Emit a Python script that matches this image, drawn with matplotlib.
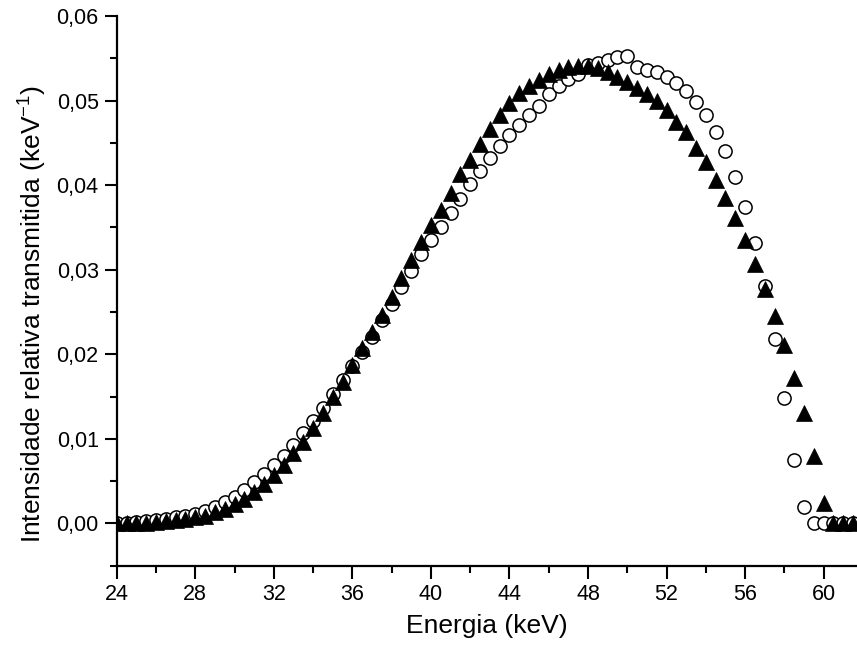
import numpy as np
import matplotlib
matplotlib.use("Agg")
import matplotlib.pyplot as plt
from matplotlib.ticker import MultipleLocator, FuncFormatter

# Energy grid (keV), one point every 0.5 keV
energia = [24.0, 24.5, 25.0, 25.5, 26.0, 26.5, 27.0, 27.5, 28.0, 28.5,
           29.0, 29.5, 30.0, 30.5, 31.0, 31.5, 32.0, 32.5, 33.0, 33.5,
           34.0, 34.5, 35.0, 35.5, 36.0, 36.5, 37.0, 37.5, 38.0, 38.5,
           39.0, 39.5, 40.0, 40.5, 41.0, 41.5, 42.0, 42.5, 43.0, 43.5,
           44.0, 44.5, 45.0, 45.5, 46.0, 46.5, 47.0, 47.5, 48.0, 48.5,
           49.0, 49.5, 50.0, 50.5, 51.0, 51.5, 52.0, 52.5, 53.0, 53.5,
           54.0, 54.5, 55.0, 55.5, 56.0, 56.5, 57.0, 57.5, 58.0, 58.5,
           59.0, 59.5, 60.0, 60.5, 61.0, 61.5]

# Open circles
circulos = [0.0001, 0.0001, 0.0002, 0.0003, 0.0004, 0.0005, 0.0007, 0.0009, 0.0011, 0.0015,
            0.0019, 0.0025, 0.0031, 0.0039, 0.0049, 0.0058, 0.0069, 0.0080, 0.0093, 0.0107,
            0.0121, 0.0137, 0.0153, 0.0170, 0.0186, 0.0203, 0.0221, 0.0240, 0.0260, 0.0280,
            0.0298, 0.0318, 0.0335, 0.0351, 0.0367, 0.0384, 0.0401, 0.0417, 0.0432, 0.0446,
            0.0459, 0.0471, 0.0483, 0.0494, 0.0508, 0.0517, 0.0525, 0.0532, 0.0542, 0.0545,
            0.0548, 0.0551, 0.0553, 0.0540, 0.0536, 0.0534, 0.0528, 0.0521, 0.0511, 0.0498,
            0.0483, 0.0463, 0.0440, 0.0410, 0.0374, 0.0332, 0.0281, 0.0218, 0.0148, 0.0075,
            0.0019, 0.0000, 0.0000, 0.0000, 0.0000, 0.0000]

# Filled triangles
triangulos = [0.0000, 0.0000, 0.0001, 0.0001, 0.0002, 0.0003, 0.0004, 0.0005, 0.0007, 0.0009,
              0.0013, 0.0017, 0.0023, 0.0029, 0.0037, 0.0047, 0.0057, 0.0069, 0.0083, 0.0096,
              0.0113, 0.0131, 0.0149, 0.0167, 0.0187, 0.0207, 0.0226, 0.0246, 0.0268, 0.0290,
              0.0311, 0.0333, 0.0353, 0.0371, 0.0391, 0.0413, 0.0430, 0.0449, 0.0466, 0.0483,
              0.0497, 0.0509, 0.0517, 0.0524, 0.0531, 0.0536, 0.0540, 0.0541, 0.0541, 0.0538,
              0.0534, 0.0528, 0.0522, 0.0515, 0.0508, 0.0500, 0.0489, 0.0475, 0.0463, 0.0444,
              0.0427, 0.0406, 0.0385, 0.0361, 0.0335, 0.0307, 0.0277, 0.0245, 0.0211, 0.0172,
              0.0130, 0.0080, 0.0024, 0.0000, 0.0000, 0.0000]


def main():
    plt.rcParams["font.family"] = ["Liberation Sans", "DejaVu Sans"]
    plt.rcParams["mathtext.fontset"] = "custom"
    plt.rcParams["mathtext.rm"] = "Liberation Sans"

    fig = plt.figure(figsize=(8.57, 6.53), dpi=100)
    ax = fig.add_axes([0.1362, 0.1337, 0.8638, 0.8418])

    # Circles first, triangles drawn on top
    ax.plot(energia, circulos, linestyle="none", marker="o", markersize=9.5,
            markerfacecolor="white", markeredgecolor="black",
            markeredgewidth=1.1, zorder=3)
    ax.plot(energia, triangulos, linestyle="none", marker="^", markersize=11,
            markerfacecolor="black", markeredgecolor="black",
            markeredgewidth=0.5, zorder=4)

    ax.set_xlim(24, 61.7)
    ax.set_ylim(-0.005, 0.06)

    # Only left and bottom axes
    ax.spines["top"].set_visible(False)
    ax.spines["right"].set_visible(False)
    ax.spines["left"].set_linewidth(1.6)
    ax.spines["bottom"].set_linewidth(1.6)

    ax.xaxis.set_major_locator(MultipleLocator(4))
    ax.xaxis.set_minor_locator(MultipleLocator(2))
    ax.yaxis.set_major_locator(MultipleLocator(0.01))
    ax.yaxis.set_minor_locator(MultipleLocator(0.005))
    ax.yaxis.set_major_formatter(
        FuncFormatter(lambda v, p: f"{v:.2f}".replace(".", ",").replace("-0,00", "0,00")))
    ax.xaxis.set_major_formatter(FuncFormatter(lambda v, p: f"{v:.0f}"))

    ax.tick_params(which="major", direction="out", length=9, width=1.5,
                   labelsize=15.5, pad=4)
    ax.tick_params(which="minor", direction="out", length=5, width=1.5)

    ax.set_xlabel("Energia (keV)", fontsize=19, labelpad=7)
    ax.set_ylabel("Intensidade relativa transmitida (keV$^{\\mathregular{-1}}$)",
                  fontsize=19, labelpad=6)
    # the y label sits a bit below the middle of the axis in the original
    ax.yaxis.label.set_y(0.458)

    fig.savefig("out.png", dpi=100)


if __name__ == "__main__":
    main()
